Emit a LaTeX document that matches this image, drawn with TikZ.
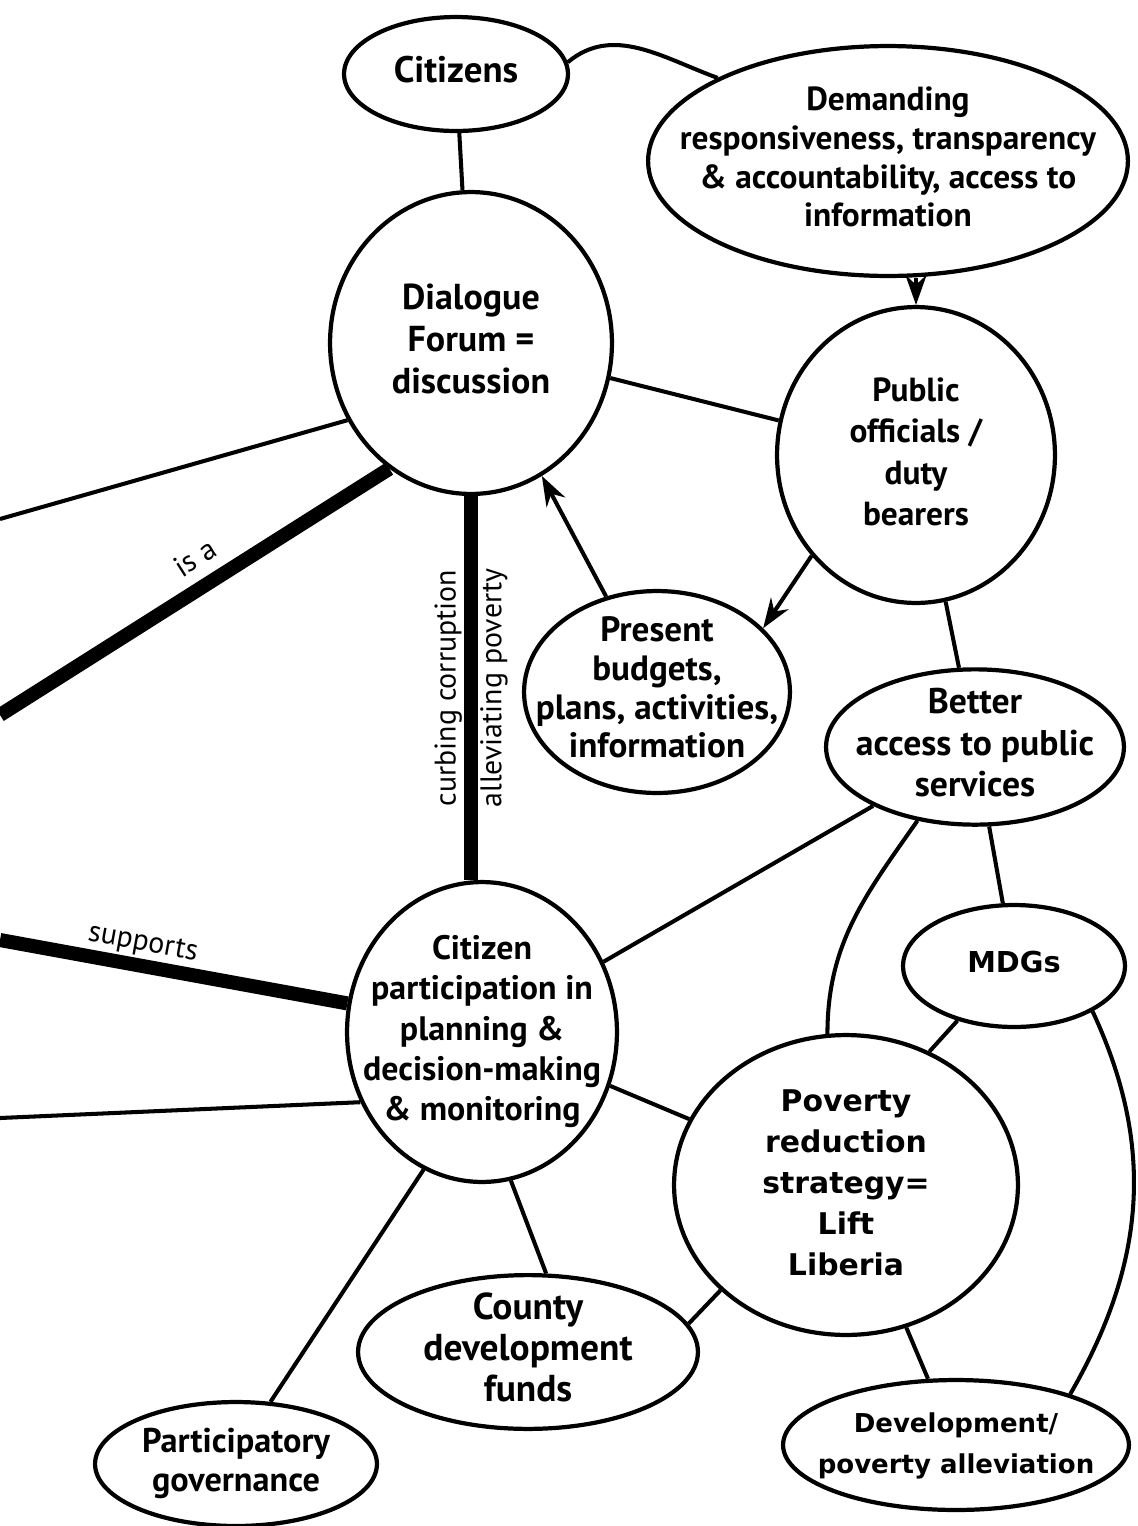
\documentclass[tikz,border=0pt]{standalone}
\usepackage{fontspec}
\setmainfont{PT Sans}
\newfontfamily\wide{DejaVu Sans}
\usetikzlibrary{shapes.geometric,arrows.meta}

\newcommand{\lines}[1]{\makebox[0pt]{\begin{tabular}{@{}c@{}}#1\end{tabular}}}

\begin{document}
\begin{tikzpicture}
	[x=0.02cm,y=-0.02cm,every node/.style={ellipse, draw, line width=2.4pt, inner sep=0pt},
	sz/.style 2 args={minimum width=#1*0.04cm, minimum height=#2*0.04cm},
	fs/.style 2 args={font=\bfseries\fontsize{#1}{#2}\selectfont}]
	\tikzstyle{edges} = [line width=2.3pt];
	\tikzstyle{heavy} = [line width=8pt];
	\tikzstyle{arr} = [line width=2.3pt, -{Stealth[length=17pt, width=12pt]}];
	\tikzstyle{lbl} = [draw=none, rectangle, inner sep=4pt, font=\fontsize{17}{20}\selectfont];
	
	\useasboundingbox (0,0) rectangle (1137,1526);
	
	\node[sz={112}{57}, fs={21}{24}] (citizens) at (456,74) {\lines{Citizens}};
	\node[sz={240}{115}, fs={19}{22}] (demand) at (888,161) {\lines{Demanding\\responsiveness, transparency\\\& accountability, access to\\information}};
	\node[sz={141}{151}, fs={20.5}{23.8}] (forum) at (471,343) {\lines{Dialogue\\Forum =\\discussion}};
	\node[sz={139}{148}, fs={19}{23.6}] (officials) at (916,455) {\lines{Public\\officials /\\duty\\bearers}};
	\node[sz={133}{101}, fs={20}{22}, inner ysep=-6pt] (present) at (657,692) {\lines{Present\\budgets,\\plans, activities,\\information}};
	\node[sz={149}{77}, fs={20.3}{23.5}, inner ysep=-4pt] (access) at (975,747) {\lines{Better\\access to public\\services}};
	\node[sz={135}{150}, fs={19.3}{23}] (particip) at (482,1032) {\lines{Citizen\\participation in\\planning \&\\decision-making\\\& monitoring}};
	\node[sz={111}{61}, font=\wide\bfseries\fontsize{16.4}{19}\selectfont] (mdgs) at (1014,966) {\lines{MDGs}};
	\node[sz={172}{150}, font=\wide\bfseries\fontsize{17}{23.3}\selectfont] (prs) at (846,1185) {\lines{Poverty\\reduction\\strategy=\\Lift\\Liberia}};
	\node[sz={170}{73}, fs={21.3}{23.3}, inner ysep=-4pt] (county) at (528,1352) {\lines{County\\development\\funds}};
	\node[sz={141}{62}, fs={19.5}{22.7}] (govern) at (236,1464) {\lines{Participatory\\governance}};
	\node[sz={173}{65}, font=\wide\bfseries\fontsize{14.8}{23.3}\selectfont] (devel) at (956,1445) {\lines{Development/\\poverty alleviation}};
	
	\coordinate (l1) at (0,519);
	\coordinate (l2) at (0,715);
	\coordinate (l3) at (0,940);
	\coordinate (l4) at (0,1118);
	
	\draw[edges] (citizens) -- (forum);
	\draw[edges] (citizens.6) to[out=40,in=160] (demand.154);
	\draw[arr] (officials.north |- demand.south) -- (officials.north);
	\draw[edges] (forum) -- (officials);
	\draw[arr] (present) -- (forum);
	\draw[arr] (officials.224) -- (present.31);
	\draw[edges] (officials) -- (access);
	\draw[edges] (l1) -- (forum.212);
	\draw[heavy] (l2) -- (forum.237) node[lbl, pos=0.54, above=5pt, sloped] {is a};
	\draw[heavy] (forum.south |- particip.north) -- (forum.south)
		node[lbl, midway, above, sloped] {curbing corruption}
		node[lbl, midway, below, sloped] {alleviating poverty};
	\draw[heavy] (l3) -- (particip.168) node[lbl, pos=0.4, above, sloped] {supports};
	\draw[edges] (l4) -- (particip.210);
	\draw[edges] (particip) -- (access);
	\draw[edges] (particip) -- (prs);
	\draw[edges] (particip.247) -- (govern.61);
	\draw[edges] (particip.281) -- (county.77);
	\draw[edges] (county.10) -- (prs.220);
	\draw[edges] (access) -- (mdgs);
	\draw[edges] (access.232) to[out=235,in=90] (prs.97);
	\draw[edges] (prs.58) -- (mdgs.224);
	\draw[edges] (prs) -- (devel);
	\draw[edges] (mdgs.330) to[out=-65,in=60] (devel.24);
\end{tikzpicture}
\end{document}
